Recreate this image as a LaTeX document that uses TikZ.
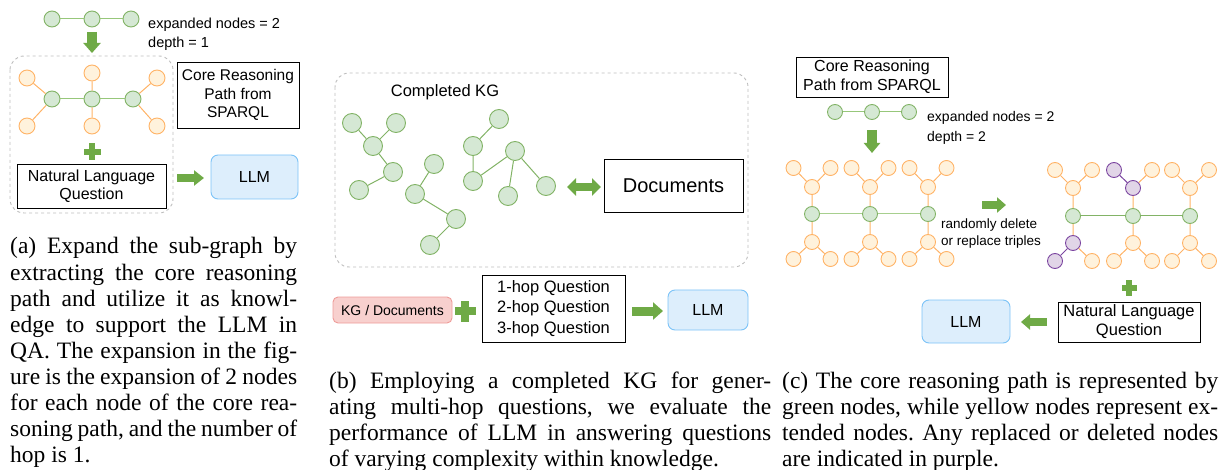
\documentclass[tikz,border=0pt]{standalone}
\usepackage{fontspec}
\setmainfont{Liberation Serif}
\setsansfont{Liberation Sans}
\usetikzlibrary{arrows.meta}
\definecolor{gfill}{HTML}{D5E8D4}
\definecolor{gline}{HTML}{82B366}
\definecolor{gedgec}{HTML}{97C77A}
\definecolor{ofill}{HTML}{FFF2DC}
\definecolor{oline}{HTML}{FFB366}
\definecolor{pfill}{HTML}{E1D5E7}
\definecolor{pline}{HTML}{7B45A0}
\definecolor{arrc}{HTML}{6FAA46}
\definecolor{lfill}{HTML}{DDEEFC}
\definecolor{lline}{HTML}{7CC3F7}
\definecolor{kfill}{HTML}{F8D0CE}
\definecolor{kline}{HTML}{EE9C99}
\definecolor{dashgray}{HTML}{BDBDBD}
\newcommand\fsz[2]{\fontsize{#1}{#2}\selectfont}
\newcommand\plussign[4]{%
  \fill[arrc] ({#1-#3/2},{#2-#4/2}) rectangle ({#1+#3/2},{#2+#4/2});
  \fill[arrc] ({#1-#4/2},{#2-#3/2}) rectangle ({#1+#4/2},{#2+#3/2});}
\frenchspacing
\begin{document}
\begin{tikzpicture}[x=1pt,y=-1pt,
  gnd/.style={circle,draw=gline,fill=gfill,line width=0.9pt,inner sep=0pt,minimum size=#1},
  gnd/.default=15,
  ond/.style={circle,draw=oline,fill=ofill,line width=0.9pt,inner sep=0pt,minimum size=#1},
  ond/.default=15,
  pnd/.style={circle,draw=pline,fill=pfill,line width=0.9pt,inner sep=0pt,minimum size=#1},
  pnd/.default=15,
  gedge/.style={draw=gedgec,line width=1pt},
  oedge/.style={draw=oline,line width=1pt},
  pedge/.style={draw=pline,line width=1pt},
  tbox/.style={draw=black,line width=0.8pt,align=center,inner sep=0pt,font=\sffamily},
  llmbox/.style={draw=lline,fill=lfill,line width=0.9pt,rounded corners=7pt,inner sep=0pt,font=\sffamily\fsz{16}{19}},
  dbox/.style={draw=dashgray,dashed,line width=0.9pt,rounded corners=14pt},
  blockarrow/.style={draw=arrc,line width=#1},
  caption/.style={anchor=base west,inner sep=0pt,align=justify,font=\rmfamily\frenchspacing\fsz{23.5}{26.1}},
  plaintext/.style={inner sep=0pt,font=\sffamily}
]
\useasboundingbox (0,0) rectangle (1223,470);

% ================= (a) =================
\node[gnd=16] (a1) at (52,19) {};
\node[gnd=16] (a2) at (92,19) {};
\node[gnd=16] (a3) at (131,19) {};
\draw[gedge] (a1) -- (a2) -- (a3);
\node[plaintext,anchor=west,align=left,font=\sffamily\fsz{14.5}{19}] (atxt) at (148,34.5) {expanded nodes = 2\\depth = 1};
\coordinate (aarrs) at (92,32);
\coordinate (aarre) at (92,53);
\draw[blockarrow=10.5pt,-{Triangle[length=10pt,width=17pt]}] (aarrs) -- (aarre);

\draw[dbox] (10,56) rectangle (173,213);
\node[gnd=16] (b1) at (52,99) {};
\node[gnd=16] (b2) at (92,99) {};
\node[gnd=16] (b3) at (133,99) {};
\node[ond=16] (o1) at (27,78) {};
\node[ond=16] (o2) at (92,73) {};
\node[ond=16] (o3) at (157,78) {};
\node[ond=16] (o4) at (27,126) {};
\node[ond=16] (o5) at (92,126) {};
\node[ond=16] (o6) at (157,126) {};
\draw[gedge] (b1) -- (b2) -- (b3);
\draw[oedge] (b1) -- (o1) (b1) -- (o4) (b2) -- (o2) (b2) -- (o5) (b3) -- (o3) (b3) -- (o6);
\plussign{92}{152}{17}{6}
\node[tbox,minimum width=149pt,minimum height=44pt,font=\sffamily\fsz{16}{18.5}] (anlq) at (91.5,186) {Natural Language\\Question};
\node[tbox,minimum width=122pt,minimum height=66pt,font=\sffamily\fsz{15.5}{18.3}] (acrp) at (238,95) {Core Reasoning\\Path from\\SPARQL};
\coordinate (aqs) at (177,178);
\coordinate (aqe) at (204,178);
\draw[blockarrow=8pt,-{Triangle[length=10pt,width=15pt]}] (aqs) -- (aqe);
\node[llmbox,minimum width=87pt,minimum height=44pt] (allm) at (254.5,177) {LLM};

\node[caption,text width=287pt] (capa) at (10,254) {(a) Expand the sub-graph by\linebreak extracting the core reasoning\linebreak path and utilize it as knowl-\linebreak edge to support the LLM in\linebreak QA. The expansion in the fig-\linebreak ure is the expansion of 2 nodes\linebreak for each node of the core rea-\linebreak soning path, and the number of\linebreak hop is 1.};

% ================= (b) =================
\draw[dbox] (335,73) rectangle (748,267);
\node[plaintext,font=\sffamily\fsz{16.5}{19}] (kgt) at (445,92) {Completed KG};
\node[gnd=19] (k1) at (352,123) {};
\node[gnd=19] (k2) at (396,123) {};
\node[gnd=19] (k3) at (373,146) {};
\node[gnd=19] (k4) at (393,172) {};
\node[gnd=19] (k5) at (359,190) {};
\node[gnd=19] (k6) at (434,164) {};
\node[gnd=19] (k7) at (415,194) {};
\node[gnd=19] (k8) at (456,219) {};
\node[gnd=19] (k9) at (430,245) {};
\node[gnd=19] (k10) at (499,119) {};
\node[gnd=19] (k11) at (473,146) {};
\node[gnd=19] (k12) at (515,151) {};
\node[gnd=19] (k13) at (473,181) {};
\node[gnd=19] (k14) at (508,196) {};
\node[gnd=19] (k15) at (546,186) {};
\draw[gedge,draw=gline] (k1) -- (k3) (k2) -- (k3) (k3) -- (k4) (k4) -- (k5)
  (k6) -- (k7) (k7) -- (k8) (k8) -- (k9)
  (k10) -- (k11) (k11) -- (k13) (k13) -- (k12) (k12) -- (k14) (k12) -- (k15);
\node[tbox,minimum width=139pt,minimum height=53pt,font=\sffamily\fsz{20}{24}] (docs) at (673.5,185.5) {Documents};
\coordinate (dbs) at (567,187);
\coordinate (dbe) at (601,187);
\draw[blockarrow=8pt,{Triangle[length=9pt,width=17pt]}-{Triangle[length=9pt,width=17pt]}] (dbs) -- (dbe);

\node[draw=kline,fill=kfill,line width=0.9pt,rounded corners=5pt,inner sep=0pt,minimum width=119pt,minimum height=26pt,font=\sffamily\fsz{14}{16}] (kgd) at (392.5,310) {KG / Documents};
\plussign{465}{311}{21}{7.5}
\node[tbox,minimum width=143pt,minimum height=67pt,font=\sffamily\fsz{16.5}{20.5}] (hops) at (553.5,308.5) {1-hop Question\\2-hop Question\\3-hop Question};
\coordinate (bqs) at (632,311);
\coordinate (bqe) at (663,311);
\draw[blockarrow=9pt,-{Triangle[length=10pt,width=17pt]}] (bqs) -- (bqe);
\node[llmbox,minimum width=80pt,minimum height=40pt] (bllm) at (708,310) {LLM};

\node[caption,text width=442pt] (capb) at (329,388) {(b) Employing a completed KG for gener-\linebreak ating multi-hop questions, we evaluate the\linebreak performance of LLM in answering questions\linebreak of varying complexity within knowledge.};

% ================= (c) =================
\node[tbox,minimum width=152pt,minimum height=40pt,font=\sffamily\fsz{16}{19}] (ccrp) at (872,77) {Core Reasoning\\Path from SPARQL};
\node[gnd=15] (c1) at (835,112) {};
\node[gnd=15] (c2) at (872,112) {};
\node[gnd=15] (c3) at (909,112) {};
\draw[gedge] (c1) -- (c2) -- (c3);
\node[plaintext,anchor=west,align=left,font=\sffamily\fsz{14}{20}] (ctxt) at (927,128) {expanded nodes = 2\\depth = 2};
\coordinate (cas) at (872,130);
\coordinate (cae) at (872,153);
\draw[blockarrow=10.5pt,-{Triangle[length=10pt,width=16pt]}] (cas) -- (cae);

% left expanded graph
\foreach \i/\X in {1/812,2/870,3/928} {
  \node[gnd] (L\i) at (\X,214) {};
  \node[ond] (LT\i) at (\X,187) {};
  \node[ond] (LTa\i) at (\X-18.5,168) {};
  \node[ond] (LTb\i) at (\X+18.5,168) {};
  \node[ond] (LB\i) at (\X,242) {};
  \node[ond] (LBa\i) at (\X-18.5,259) {};
  \node[ond] (LBb\i) at (\X+18.5,259) {};
  \draw[oedge] (L\i) -- (LT\i) (LT\i) -- (LTa\i) (LT\i) -- (LTb\i)
    (L\i) -- (LB\i) (LB\i) -- (LBa\i) (LB\i) -- (LBb\i);
}
\draw[gedge,draw=gedgec!85!white] (L1) -- (L2) -- (L3);

\coordinate (crs) at (982,205);
\coordinate (cre) at (1006,205);
\draw[blockarrow=8pt,-{Triangle[length=9pt,width=15pt]}] (crs) -- (cre);
\node[plaintext,anchor=west,align=left,font=\sffamily\fsz{13.5}{17}] (crand) at (941,233.5) {randomly delete\\or replace triples};

% right expanded graph
\node[gnd] (R1) at (1073,216) {};
\node[ond] (RT1) at (1073,188) {};
\node[ond] (RTa1) at (1055,170) {};
\node[ond] (RTb1) at (1092,170) {};
\node[pnd] (RB1) at (1073,243) {};
\node[pnd] (RBa1) at (1055,261) {};
\node[ond] (RBb1) at (1092,261) {};
\node[gnd] (R2) at (1133,216) {};
\node[pnd] (RT2) at (1133,188) {};
\node[pnd] (RTa2) at (1114,170) {};
\node[ond] (RTb2) at (1152,170) {};
\node[ond] (RB2) at (1133,243) {};
\node[ond] (RBa2) at (1114,261) {};
\node[ond] (RBb2) at (1152,261) {};
\node[gnd] (R3) at (1190,216) {};
\node[ond] (RT3) at (1190,188) {};
\node[ond] (RTa3) at (1172,170) {};
\node[ond] (RTb3) at (1209,170) {};
\node[ond] (RB3) at (1190,243) {};
\node[ond] (RBa3) at (1172,261) {};
\node[ond] (RBb3) at (1209,261) {};
\draw[gedge,draw=gline] (R1) -- (R2) -- (R3);
\draw[oedge] (R1) -- (RT1) (RT1) -- (RTa1) (RT1) -- (RTb1) (R1) -- (RB1) (RB1) -- (RBb1)
  (R2) -- (RT2) (RT2) -- (RTb2) (R2) -- (RB2) (RB2) -- (RBa2) (RB2) -- (RBb2)
  (R3) -- (RT3) (RT3) -- (RTa3) (RT3) -- (RTb3) (R3) -- (RB3) (RB3) -- (RBa3) (RB3) -- (RBb3);
\draw[pedge] (RB1) -- (RBa1) (RT2) -- (RTa2);

\plussign{1129}{288}{15}{6}
\node[tbox,minimum width=142pt,minimum height=40pt,font=\sffamily\fsz{16.5}{19}] (cnlq) at (1129,322) {Natural Language\\Question};
\coordinate (cls) at (1047,322);
\coordinate (cle) at (1021,322);
\draw[blockarrow=8pt,-{Triangle[length=9pt,width=15pt]}] (cls) -- (cle);
\node[llmbox,minimum width=88pt,minimum height=43pt] (cllm) at (966,321.5) {LLM};

\node[caption,text width=436pt] (capc) at (782,388) {(c) The core reasoning path is represented by\linebreak green nodes, while yellow nodes represent ex-\linebreak tended nodes. Any replaced or deleted nodes\linebreak are indicated in purple.};
\end{tikzpicture}
\end{document}
